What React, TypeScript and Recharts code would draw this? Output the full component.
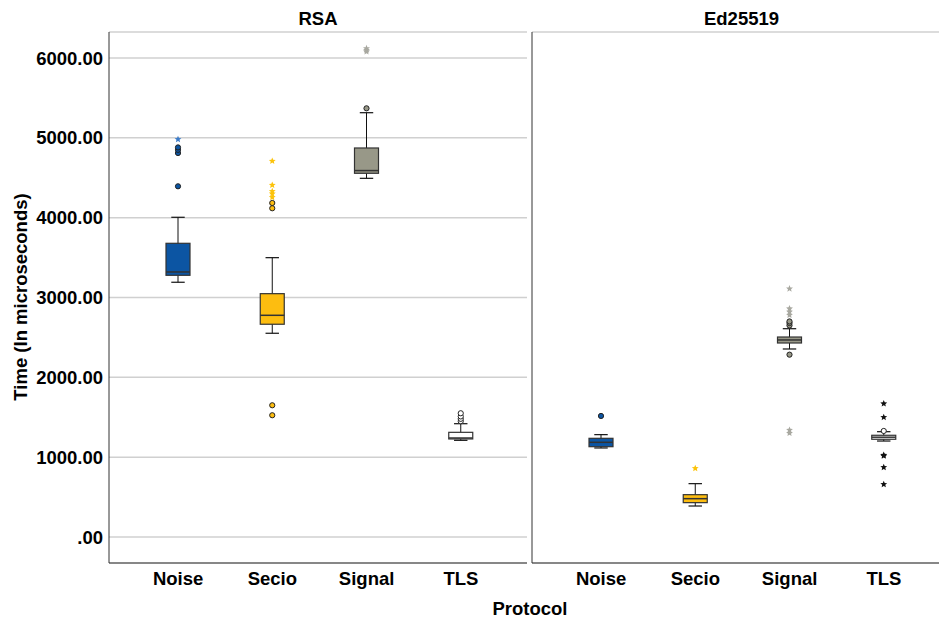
import React from 'react';
import { BarChart, Bar, XAxis, YAxis, CartesianGrid } from 'recharts';

const FONT = '"Liberation Sans", Arial, sans-serif';

const protocols = ['Noise', 'Secio', 'Signal', 'TLS'];
const yTicks = [0, 1000, 2000, 3000, 4000, 5000, 6000];

const boxFills = ['#0c55a3', '#fdbd10', '#989888', '#ffffff'];
const starFills = ['#3d7cc9', '#fcc30a', '#a8a8a0', '#111111'];

// RSA panel
const rsaLow = [3191, 2552, 4493, 1211];
const rsaQ1 = [3278, 2665, 4556, 1228];
const rsaMedian = [3320, 2777, 4590, 1240];
const rsaQ3 = [3679, 3048, 4873, 1311];
const rsaHigh = [4005, 3499, 5315, 1419];
const rsaCircles = [
  [4393, 4810, 4850, 4880],
  [1525, 1650, 4118, 4184],
  [5370],
  [1450, 1480, 1510, 1550],
];
const rsaStars = [
  [4982],
  [4255, 4300, 4330, 4409, 4710],
  [6080, 6100, 6120],
  [],
];

// Ed25519 panel
const edLow = [1115, 388, 2355, 1202];
const edQ1 = [1131, 430, 2430, 1224];
const edMedian = [1186, 480, 2468, 1250];
const edQ3 = [1236, 530, 2505, 1274];
const edHigh = [1282, 668, 2609, 1319];
const edCircles = [[1516], [], [2284, 2650, 2680, 2700], [1328]];
const edStars = [
  [],
  [860],
  [1300, 1340, 2780, 2820, 2860, 3110],
  [660, 873, 1015, 1025, 1500, 1670],
];

const buildRows = (
  low: number[], q1: number[], median: number[], q3: number[], high: number[],
  circles: number[][], stars: number[][]
) =>
  protocols.map((p, i) => ({
    protocol: p,
    range: [low[i], high[i]],
    low: low[i],
    q1: q1[i],
    median: median[i],
    q3: q3[i],
    high: high[i],
    circles: circles[i],
    stars: stars[i],
    fill: boxFills[i],
    starFill: starFills[i],
  }));

const rsaData = buildRows(rsaLow, rsaQ1, rsaMedian, rsaQ3, rsaHigh, rsaCircles, rsaStars);
const edData = buildRows(edLow, edQ1, edMedian, edQ3, edHigh, edCircles, edStars);

const starPath = (cx: number, cy: number, r: number) => {
  const pts: string[] = [];
  for (let k = 0; k < 10; k++) {
    const rad = k % 2 === 0 ? r : r * 0.45;
    const a = -Math.PI / 2 + (k * Math.PI) / 5;
    pts.push(`${(cx + rad * Math.cos(a)).toFixed(2)},${(cy + rad * Math.sin(a)).toFixed(2)}`);
  }
  return `M${pts.join('L')}Z`;
};

// the bar spans low..high whisker; everything else is placed on the same linear scale
const BoxShape = (props: any) => {
  const { x, y, width, height, payload } = props;
  const { low, q1, median, q3, high, circles, stars, fill, starFill } = payload;
  const px = (v: number) => y + (height * (high - v)) / (high - low);
  const cx = x + width / 2;
  const cap = width * 0.28;
  return (
    <g>
      <line x1={cx} x2={cx} y1={px(high)} y2={px(low)} stroke="#111" strokeWidth={1} />
      <line x1={cx - cap} x2={cx + cap} y1={px(high)} y2={px(high)} stroke="#111" strokeWidth={1.2} />
      <line x1={cx - cap} x2={cx + cap} y1={px(low)} y2={px(low)} stroke="#111" strokeWidth={1.2} />
      <rect
        x={x}
        y={px(q3)}
        width={width}
        height={px(q1) - px(q3)}
        fill={fill}
        stroke="#333"
        strokeWidth={1.2}
      />
      <line x1={x} x2={x + width} y1={px(median)} y2={px(median)} stroke="#333" strokeWidth={1.5} />
      {circles.map((v: number, i: number) => (
        <circle key={`c${i}`} cx={cx} cy={px(v)} r={2.6} fill={fill} stroke="#222" strokeWidth={1} />
      ))}
      {stars.map((v: number, i: number) => (
        <path key={`s${i}`} d={starPath(cx, px(v), 3.6)} fill={starFill} />
      ))}
    </g>
  );
};

const FS = 18.5;
const tickStyle = { fontSize: FS, fontWeight: 'bold' as const, fill: '#000', fontFamily: FONT };
const fmt = (v: number) => (v === 0 ? '.00' : v.toFixed(2));

export default function App() {
  return (
    <div
      style={{
        position: 'absolute',
        left: 0,
        top: 0,
        width: 939,
        height: 622,
        overflow: 'hidden',
        background: '#fff',
        fontFamily: FONT,
      }}
    >
      <div style={{ position: 'absolute', left: 0, top: 0 }}>
        <BarChart width={532} height={622} data={rsaData} margin={{ top: 32, right: 5, bottom: 29, left: 0 }}>
          <CartesianGrid horizontal vertical={false} stroke="#d0d0d0" strokeWidth={1.5} />
          <XAxis
            dataKey="protocol"
            height={30}
            padding={{ left: 22, right: 19 }}
            tickLine={false}
            tickMargin={3}
            axisLine={{ stroke: '#333' }}
            tick={tickStyle}
            interval={0}
          />
          <YAxis
            width={109}
            domain={[-326, 6326]}
            ticks={yTicks}
            tickFormatter={fmt}
            tickLine={false}
            tickSize={4}
            tickMargin={2}
            axisLine={{ stroke: '#333' }}
            tick={tickStyle}
            allowDataOverflow
          />
          <Bar dataKey="range" barSize={24} isAnimationActive={false} shape={BoxShape} />
        </BarChart>
      </div>
      <div style={{ position: 'absolute', left: 531, top: 0 }}>
        <BarChart width={420} height={622} data={edData} margin={{ top: 32, right: 0, bottom: 29, left: 0 }}>
          <CartesianGrid horizontal vertical={false} stroke="#d0d0d0" strokeWidth={1.5} />
          <XAxis
            dataKey="protocol"
            height={30}
            padding={{ left: 22, right: 20 }}
            tickLine={false}
            tickMargin={3}
            axisLine={{ stroke: '#333' }}
            tick={tickStyle}
            interval={0}
          />
          <YAxis
            width={1}
            domain={[-326, 6326]}
            ticks={yTicks}
            tick={false}
            tickLine={false}
            axisLine={{ stroke: '#333' }}
            allowDataOverflow
          />
          <Bar dataKey="range" barSize={24} isAnimationActive={false} shape={BoxShape} />
        </BarChart>
      </div>
      <div
        style={{
          position: 'absolute', left: 109, top: 8, width: 418, textAlign: 'center',
          fontSize: FS, fontWeight: 'bold', lineHeight: '22px',
        }}
      >
        RSA
      </div>
      <div
        style={{
          position: 'absolute', left: 532, top: 8, width: 419, textAlign: 'center',
          fontSize: FS, fontWeight: 'bold', lineHeight: '22px',
        }}
      >
        Ed25519
      </div>
      <div
        style={{
          position: 'absolute', left: 330, top: 598, width: 400, textAlign: 'center',
          fontSize: FS, fontWeight: 'bold', lineHeight: '22px',
        }}
      >
        Protocol
      </div>
      <svg style={{ position: 'absolute', left: 0, top: 0 }} width={40} height={622}>
        <text
          x={27}
          y={297}
          transform="rotate(-90 27 297)"
          textAnchor="middle"
          fontSize={FS}
          fontWeight="bold"
          fontFamily={FONT}
          fill="#000"
        >
          Time (In microseconds)
        </text>
      </svg>
    </div>
  );
}
